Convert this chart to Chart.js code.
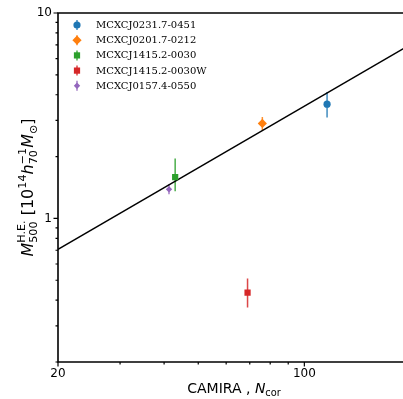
<!DOCTYPE html>
<html><head><meta charset="utf-8">
<script src="https://cdn.jsdelivr.net/npm/chart.js@4/dist/chart.umd.min.js"></script>
<style>html,body{margin:0;padding:0;background:#fff;overflow:hidden}#wrap{width:403px;height:399px;overflow:hidden;position:relative}</style>
</head><body><div id="wrap"><canvas id="c" width="408" height="399"></canvas></div>
<script>
// ---- data ----
const clusterNames = ['MCXCJ0231.7-0451','MCXCJ0201.7-0212','MCXCJ1415.2-0030','MCXCJ1415.2-0030W','MCXCJ0157.4-0550'];
const nCor = [116, 76, 43, 69, 41.3];
const massHE = [3.6, 2.9, 1.59, 0.435, 1.385];
const massLow = [3.1, 2.67, 1.355, 0.368, 1.31];
const massHigh = [4.12, 3.12, 1.96, 0.51, 1.47];
const fitN = [20, 191];
const fitM = [0.707, 6.71];
const xTickLabels = [20, 100];
const yTickLabels = [1, 10];
const xMinorTicks = [30, 40, 50, 60, 70, 80, 90];
const yMinorTicks = [0.2, 0.3, 0.4, 0.5, 0.6, 0.7, 0.8, 0.9, 2, 3, 4, 5, 6, 7, 8, 9];

// ---- styles ----
const colors = ['#1f77b4', '#ff7f0e', '#2ca02c', '#d62728', '#9467bd'];
const styles = ['circle', 'rectRot', 'rect', 'rect', 'rectRot'];
const radii = [3.6, 4.6, 4.4, 4.4, 3.2];

const datasets = [{
  type: 'line', label: '_fit', data: fitN.map((x, i) => ({x, y: fitM[i]})),
  borderColor: '#000', borderWidth: 1.4, pointRadius: 0, order: 10, fill: false, tension: 0
}];
clusterNames.forEach((name, i) => {
  datasets.push({
    type: 'scatter', label: name,
    data: [{x: nCor[i], y: massHE[i], lo: massLow[i], hi: massHigh[i]}],
    backgroundColor: colors[i], borderColor: colors[i], borderWidth: 0,
    pointStyle: styles[i], pointRadius: radii[i], pointHoverRadius: radii[i], order: 1
  });
});

function marker(ctx, style, r, x, y, color) {
  ctx.save();
  ctx.fillStyle = color;
  ctx.beginPath();
  if (style === 'circle') { ctx.arc(x, y, r, 0, Math.PI * 2); }
  else if (style === 'rect') { const s = r * Math.SQRT1_2; ctx.rect(x - s, y - s, 2 * s, 2 * s); }
  else { ctx.moveTo(x, y - r); ctx.lineTo(x + r, y); ctx.lineTo(x, y + r); ctx.lineTo(x - r, y); ctx.closePath(); }
  ctx.fill();
  ctx.restore();
}

function measureMath(ctx, parts, base) {
  let w = 0, i = 0;
  const items = [];
  while (i < parts.length) {
    const grp = [parts[i]];
    while (parts[i] && parts[i].stack && parts[i + 1]) { i++; grp.push(parts[i]); }
    let mw = 0;
    grp.forEach(g => {
      ctx.font = (g.it ? 'italic ' : '') + (base * (g.s || 1)) + 'px "DejaVu Sans"';
      mw = Math.max(mw, ctx.measureText(g.t).width);
    });
    items.push({grp, w: mw});
    w += mw;
    i++;
  }
  return {items, w};
}
function renderMath(ctx, parts, base, x0, y0) {
  const m = measureMath(ctx, parts, base);
  let x = x0 - m.w / 2;
  ctx.textBaseline = 'alphabetic';
  ctx.textAlign = 'left';
  ctx.fillStyle = '#000';
  m.items.forEach(it => {
    it.grp.forEach(g => {
      ctx.font = (g.it ? 'italic ' : '') + (base * (g.s || 1)) + 'px "DejaVu Sans"';
      ctx.fillText(g.t, x, y0 + (g.dy || 0) * base);
    });
    x += it.w;
  });
}

const decorPlugin = {
  id: 'decor',
  beforeDatasetsDraw(chart) {
    const {ctx, chartArea: a} = chart;
    const xs = chart.scales.x, ys = chart.scales.y;
    ctx.save();
    ctx.beginPath(); ctx.rect(a.left, a.top, a.right - a.left, a.bottom - a.top); ctx.clip();
    chart.data.datasets.forEach(ds => {
      if (ds.type !== 'scatter') return;
      ds.data.forEach(p => {
        const px = xs.getPixelForValue(p.x);
        ctx.strokeStyle = ds.borderColor;
        ctx.globalAlpha = 0.85;
        ctx.lineWidth = 1.5;
        ctx.beginPath();
        ctx.moveTo(px, ys.getPixelForValue(p.lo));
        ctx.lineTo(px, ys.getPixelForValue(p.hi));
        ctx.stroke();
      });
    });
    ctx.restore();
  },
  afterDraw(chart) {
    const {ctx, chartArea: a} = chart;
    const xs = chart.scales.x, ys = chart.scales.y;
    ctx.save();
    ctx.strokeStyle = '#000';
    ctx.lineWidth = 1.6;
    ctx.beginPath();
    ctx.moveTo(a.right + 2, a.top); ctx.lineTo(a.left, a.top);
    ctx.lineTo(a.left, a.bottom); ctx.lineTo(a.right + 2, a.bottom);
    ctx.stroke();
    ctx.lineWidth = 1.2;
    ctx.beginPath();
    xTickLabels.forEach(v => { const p = xs.getPixelForValue(v); ctx.moveTo(p, a.bottom); ctx.lineTo(p, a.bottom + 4.5); });
    xMinorTicks.forEach(v => { const p = xs.getPixelForValue(v); ctx.moveTo(p, a.bottom); ctx.lineTo(p, a.bottom + 2.5); });
    yTickLabels.forEach(v => { const p = ys.getPixelForValue(v); ctx.moveTo(a.left, p); ctx.lineTo(a.left - 4.5, p); });
    yMinorTicks.forEach(v => { const p = ys.getPixelForValue(v); ctx.moveTo(a.left, p); ctx.lineTo(a.left - 2.5, p); });
    ctx.stroke();
    const lx = a.left + 19, ly0 = a.top + 12, dy = 15.2;
    chart.data.datasets.forEach((ds, di) => {
      if (ds.type !== 'scatter') return;
      const y = ly0 + (di - 1) * dy;
      ctx.strokeStyle = ds.borderColor; ctx.globalAlpha = 0.85; ctx.lineWidth = 1.5;
      ctx.beginPath(); ctx.moveTo(lx, y - 5); ctx.lineTo(lx, y + 5); ctx.stroke();
      ctx.globalAlpha = 1;
      marker(ctx, ds.pointStyle, ds.pointRadius, lx, y, ds.backgroundColor);
      ctx.fillStyle = '#000';
      ctx.font = '10px "DejaVu Serif"';
      ctx.textAlign = 'left'; ctx.textBaseline = 'middle';
      ctx.fillText(ds.label, a.left + 38, y + 0.5);
    });
    renderMath(ctx, [
      {t: 'CAMIRA , '}, {t: 'N', it: true}, {t: 'cor', s: 0.7, dy: 0.22}
    ], 14, 234, 393);
    ctx.save();
    ctx.translate(33, (a.top + a.bottom) / 2);
    ctx.rotate(-Math.PI / 2);
    renderMath(ctx, [
      {t: 'M', it: true},
      {t: '500', s: 0.7, dy: 0.25, stack: true}, {t: 'H.E.', s: 0.7, dy: -0.5},
      {t: ' ['}, {t: '10'}, {t: '14', s: 0.7, dy: -0.45},
      {t: 'h', it: true},
      {t: '70', s: 0.7, dy: 0.25, stack: true}, {t: '\u22121', s: 0.7, dy: -0.45},
      {t: 'M', it: true}, {t: '\u2299', s: 0.7, dy: 0.25}, {t: ']'}
    ], 16, 0, 0);
    ctx.restore();
    ctx.restore();
  }
};

new Chart(document.getElementById('c'), {
  data: {datasets},
  options: {
    responsive: false, animation: false, devicePixelRatio: 1,
    layout: {padding: {top: 13, left: 0, right: 0, bottom: 0}},
    plugins: {legend: {display: false}, tooltip: {enabled: false}},
    scales: {
      x: {
        type: 'logarithmic', min: 20, max: 191,
        afterBuildTicks: ax => { ax.ticks = xTickLabels.map(v => ({value: v})); },
        afterFit: ax => { ax.height = 37; ax.paddingLeft = 0; ax.paddingRight = 0; },
        grid: {display: true, drawOnChartArea: false, drawTicks: true, tickLength: 4, color: 'rgba(0,0,0,0)'},
        border: {display: false},
        ticks: {autoSkip: false, maxRotation: 0, padding: 1, color: '#000', font: {family: 'DejaVu Sans', size: 12}, callback: v => String(v)}
      },
      y: {
        type: 'logarithmic', min: 0.2, max: 10,
        afterBuildTicks: ax => { ax.ticks = yTickLabels.map(v => ({value: v})); },
        afterFit: ax => { ax.width = 58; ax.paddingTop = 0; ax.paddingBottom = 0; },
        grid: {display: true, drawOnChartArea: false, drawTicks: true, tickLength: 5, color: 'rgba(0,0,0,0)'},
        border: {display: false},
        ticks: {autoSkip: false, padding: 1, color: '#000', font: {family: 'DejaVu Sans', size: 12}, callback: v => String(v)}
      }
    }
  },
  plugins: [decorPlugin]
});
</script></body></html>
